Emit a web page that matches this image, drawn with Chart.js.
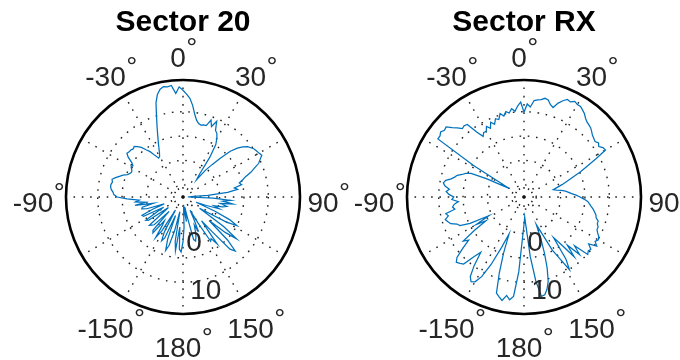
<!DOCTYPE html>
<html><head><meta charset="utf-8">
<script src="https://cdn.jsdelivr.net/npm/chart.js@4.4.1/dist/chart.umd.min.js"></script>
<style>
html,body{margin:0;padding:0;width:680px;height:360px;overflow:hidden;background:#fff;}
canvas{position:absolute;top:0;}
</style></head><body>
<canvas id="c1" width="366" height="360" style="left:0px"></canvas>
<canvas id="c2" width="344" height="360" style="left:352px"></canvas>
<script>
// Angle categories (degrees, clockwise from top)
const ANGLES = [0,2,4,6,8,10,12,14,16,18,20,22,24,26,28,30,32,34,36,38,40,42,44,46,48,50,52,54,56,58,
60,62,64,66,68,70,72,74,76,78,80,82,84,86,88,90,92,94,96,98,100,102,104,106,108,110,112,114,116,118,
120,122,124,126,128,130,132,134,136,138,140,142,144,146,148,150,152,154,156,158,160,162,164,166,168,170,172,174,176,178,
180,182,184,186,188,190,192,194,196,198,200,202,204,206,208,210,212,214,216,218,220,222,224,226,228,230,232,234,236,238,
240,242,244,246,248,250,252,254,256,258,260,262,264,266,268,270,272,274,276,278,280,282,284,286,288,290,292,294,296,298,
300,302,304,306,308,310,312,314,316,318,320,322,324,326,328,330,332,334,336,338,340,342,344,346,348,350,352,354,356,358];
const ANGLE_STEP = 2;

// Series: Sector 20
const SECTOR_20 = [
14.4, 13.6, 12.8, 11.4, 9.7, 8.5, 7.9, 7.7, 7.9, 7.9,
9.3, 8.1, 9.5, 7.7, 7.3, 6.4, 5.2, 2.3, -1.8, -3.0,
-0.3, 1.5, 3.6, 6.0, 7.5, 8.5, 9.3, 9.7, 10.1, 10.3,
10.5, 10.8, 10.1, 9.5, 8.3, 7.3, 6.0, 5.2, 4.4, 4.8,
3.2, 3.8, 1.7, -2.4, -5.9, -6.5, -1.3, 2.3, 0.7, 2.8,
0.3, 1.7, 0.9, -0.9, 0.3, -2.4, -4.6, -0.3, 3.2, 5.0,
2.8, -1.3, -3.4, 2.8, 6.4, 3.8, -0.3, 5.2, 7.9, 6.9,
1.7, -1.3, 4.4, 2.8, 3.2, -1.3, -4.4, -2.4, 0.3, -1.3,
-0.1, 1.1, 1.9, 1.5, -3.4, -5.4, -2.4, -4.4, -5.9, -1.3,
1.7, 3.8, 3.2, -1.3, 3.6, 1.7, -4.4, -0.3, 2.8, 4.0,
1.7, -3.4, 1.7, 2.5, 0.7, -4.4, 0.7, 2.5, -0.3, -1.3,
2.1, 1.7, -3.4, 0.7, 1.1, 1.5, -2.4, -3.8, 1.1, 1.5,
-1.3, -3.0, 1.5, 1.7, -0.9, -3.4, 0.3, 1.3, 1.1, -1.3,
2.5, 0.3, 2.3, 1.5, 4.0, 6.0, 6.7, 6.9, 7.3, 7.5,
7.5, 7.3, 7.5, 6.9, 6.2, 5.6, 4.8, 4.4, 4.2, 4.4,
4.8, 4.6, 5.2, 6.4, 7.1, 6.9, 6.9, 6.7, 6.9, 6.4,
5.8, 4.8, 4.0, 2.8, 1.9, 2.1, 2.8, 3.8, 5.0, 6.4,
8.1, 10.1, 12.6, 14.2, 15.1, 15.5, 15.3, 15.5, 13.8, 15.1];

// Series: Sector RX
const SECTOR_RX = [
9.9, 11.6, 11.0, 12.4, 12.6, 12.8, 13.2, 13.0, 12.2, 11.8,
13.0, 13.8, 14.4, 14.2, 14.7, 14.4, 14.4, 14.0, 13.6, 13.0,
12.6, 12.4, 12.2, 11.8, 11.4, 11.2, 11.0, 11.4, 11.0, 11.6,
11.8, 9.3, 6.9, 5.2, 3.2, 1.9, 0.7, -0.5, -1.3, -0.7,
0.3, 1.1, 1.7, 2.3, 3.2, 4.0, 4.8, 5.6, 6.0, 6.4,
6.9, 7.3, 7.7, 7.9, 8.5, 8.5, 8.9, 8.9, 9.3, 9.9,
10.1, 9.7, 10.5, 8.9, 9.9, 9.7, 10.1, 6.9, 8.9, 5.8,
8.5, 4.8, 2.8, 7.9, 10.1, 6.9, 4.8, 0.7, -1.3, 1.7,
4.8, 7.9, 10.5, 12.0, 13.0, 13.2, 9.9, 4.8, -1.3, -3.4,
-1.8, 0.7, 7.9, 13.0, 13.8, 13.0, 14.2, 13.6, 13.0, 8.9,
4.8, 0.7, 3.8, 7.9, 11.0, 12.6, 13.0, 12.2, 9.9, 6.9,
8.5, 11.0, 11.4, 11.8, 11.0, 8.9, 6.9, 7.9, 4.8, 1.7,
3.8, 0.7, 4.8, 6.9, 7.3, 8.5, 8.9, 9.3, 8.5, 8.9,
6.9, 7.3, 6.9, 6.0, 7.3, 6.9, 7.9, 8.5, 7.9, 8.9,
9.3, 8.9, 7.9, 7.3, 6.9, 6.0, 5.4, 4.4, 1.1, -2.4,
-4.0, 4.8, 13.8, 13.8, 14.2, 13.8, 14.0, 13.0, 12.2, 11.4,
11.6, 11.4, 8.9, 7.5, 8.1, 8.0, 8.9, 8.2, 9.3, 8.6,
9.6, 9.2, 10.3, 9.6, 10.4, 10.0, 10.8, 10.2, 11.2, 12.0];

// Axis ticks
const R_MIN = -7.5;
const R_MAX = 16.5;
const R_RINGS = [-5, 0, 5, 10];
const R_TICK_LABELS = [0, 10];
const R_LABEL_ANGLE = 166;
const THETA_TICKS = [0, 30, 90, 150, 180, -150, -90, -30];
const THETA_TICK_LABELS = ['0', '30', '90', '150', '180', '-150', '-90', '-30'];
const DEGREE_MARK = '\u00B0';
const SPOKE_EVERY = 30;

const FONT = '"Liberation Sans", Arial, Helvetica, sans-serif';
const LINE_COLOR = '#0072BD';
const GRID_COLOR = 'rgba(20,20,20,0.95)';
const GRID_DASH = [1.6, 6.7];
const TEXT_COLOR = '#262626';
const THETA_LABEL_RATIO = 145 / 117;
const DEG_INK = 8;

const labelPlugin = {
  id: 'polarLabels',
  afterDraw(chart) {
    const s = chart.scales.r, ctx = chart.ctx;
    ctx.save();
    ctx.fillStyle = TEXT_COLOR;
    ctx.textBaseline = 'alphabetic';
    ctx.textAlign = 'left';
    // size the degree mark so its ink is about DEG_INK px wide
    ctx.font = '100px ' + FONT;
    const m100 = ctx.measureText(DEGREE_MARK);
    const ink100 = (m100.actualBoundingBoxRight + m100.actualBoundingBoxLeft) || 20;
    const degSize = 100 * DEG_INK / ink100;
    ctx.font = degSize + 'px ' + FONT;
    const dm = ctx.measureText(DEGREE_MARK);
    THETA_TICKS.forEach((deg, i) => {
      const idx = (((deg % 360) + 360) % 360) / ANGLE_STEP;
      const p = s.getPointPosition(idx, s.drawingArea * THETA_LABEL_RATIO);
      const t = THETA_TICK_LABELS[i];
      ctx.font = '28px ' + FONT;
      const tm = ctx.measureText(t);
      const w = tm.width;
      const x0 = p.x - (w + DEG_INK + 2) / 2;
      const base = p.y + 15;
      ctx.fillText(t, x0, base);
      const digitTop = base - tm.actualBoundingBoxAscent;
      const inkRight = x0 + tm.actualBoundingBoxRight;
      ctx.font = degSize + 'px ' + FONT;
      ctx.fillText(DEGREE_MARK, inkRight + 2 + dm.actualBoundingBoxLeft, digitTop - 11 + dm.actualBoundingBoxAscent);
    });
    ctx.font = '28px ' + FONT;
    ctx.textAlign = 'center';
    const ridx = R_LABEL_ANGLE / ANGLE_STEP;
    R_TICK_LABELS.forEach(v => {
      const p = s.getPointPosition(ridx, s.getDistanceFromCenterForValue(v) + 9);
      ctx.fillText(String(v), p.x, p.y + 10);
    });
    ctx.restore();
  }
};

function makeChart(id, title, values, padL, padR) {
  return new Chart(document.getElementById(id), {
    type: 'radar',
    data: {
      labels: ANGLES,
      datasets: [{
        data: values, borderColor: LINE_COLOR, borderWidth: 1.25,
        pointRadius: 0, pointHoverRadius: 0, fill: false, tension: 0
      }]
    },
    options: {
      responsive: false, animation: false, devicePixelRatio: 1,
      layout: { padding: { left: padL, right: padR, top: 0, bottom: 46 } },
      plugins: {
        legend: { display: false },
        tooltip: { enabled: false },
        title: {
          display: true, text: title, color: '#000',
          font: { family: FONT, size: 30, weight: 'bold', lineHeight: 1.2 },
          padding: { top: 5, bottom: 39 }
        }
      },
      scales: {
        r: {
          min: R_MIN, max: R_MAX, startAngle: 0,
          afterBuildTicks: (sc) => { sc.ticks = [R_MIN, ...R_RINGS, R_MAX].map(v => ({ value: v })); },
          ticks: { display: false },
          pointLabels: { display: false },
          grid: {
            circular: true,
            color: c => (c.tick && c.tick.value === R_MAX) ? '#000' : GRID_COLOR,
            lineWidth: c => (c.tick && c.tick.value === R_MAX) ? 2.6 : 1.4
          },
          border: { dash: c => (c.tick && c.tick.value === R_MAX) ? [] : GRID_DASH },
          angleLines: {
            color: GRID_COLOR,
            lineWidth: c => ((c.index * ANGLE_STEP) % SPOKE_EVERY === 0 ? 1.4 : 0),
            borderDash: GRID_DASH
          }
        }
      }
    },
    plugins: [labelPlugin]
  });
}

makeChart('c1', 'Sector 20', SECTOR_20, 66, 66);
makeChart('c2', 'Sector RX', SECTOR_RX, 55, 55);
</script></body></html>
